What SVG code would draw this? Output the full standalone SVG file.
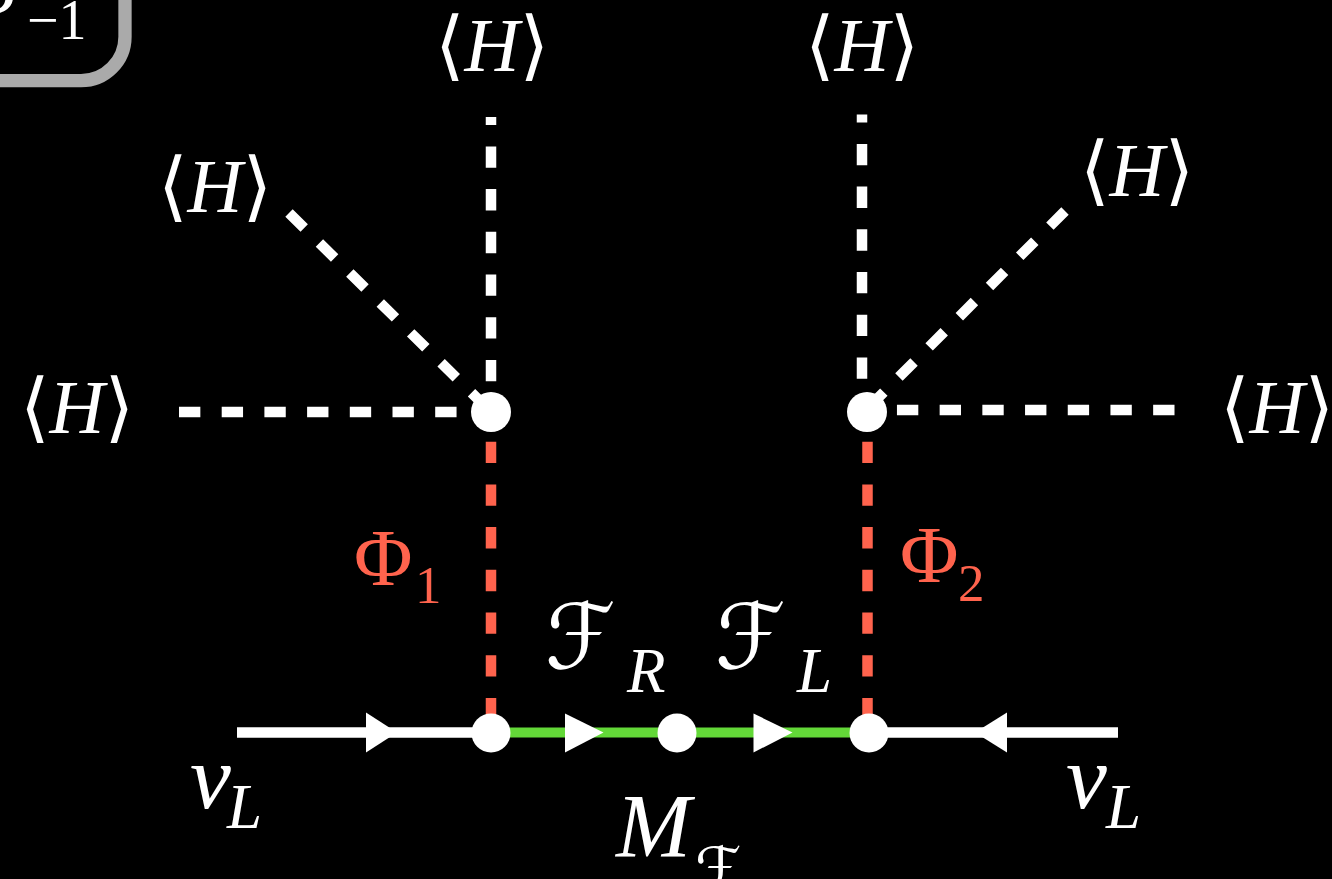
<svg xmlns="http://www.w3.org/2000/svg" width="1332" height="879" viewBox="0 0 1332 879">
<style>
.t{font-family:"Liberation Serif","DejaVu Serif",serif;fill:#fff}
.i{font-style:italic}
.r{fill:#ff634d}
.sc{font-family:"DejaVu Serif","DejaVu Sans",serif;fill:#fff;font-style:italic}
.h{stroke:#fff;stroke-width:10.5;stroke-dasharray:21.35 21.35;fill:none}
.p{stroke:#ff634d;stroke-width:10.5;stroke-dasharray:21.35 21.35;fill:none}
.v{fill:#fff}
</style>
<rect width="1332" height="879" fill="#000"/>
<g id="box">
<rect x="-200" y="-100" width="325" height="180.7" rx="44" fill="none" stroke="#aaaaaa" stroke-width="13.3"/>
<text class="t i" x="-28" y="13" font-size="90">S</text>
<text class="t" x="27" y="39" font-size="56">−1</text>
</g>
<g id="connectors">
<line class="h" x1="491" y1="117" x2="491" y2="412" stroke-dashoffset="13.3"/>
<line class="h" x1="179" y1="412" x2="491" y2="412"/>
<line class="h" x1="289" y1="213" x2="491" y2="412"/>
<line class="h" x1="862" y1="114.5" x2="862" y2="412" stroke-dashoffset="13.3"/>
<line class="h" x1="1174.5" y1="410" x2="867" y2="410"/>
<line class="h" x1="1065" y1="211" x2="866" y2="410"/>
<line class="p" x1="491" y1="399" x2="491" y2="732"/>
<line class="p" x1="867.5" y1="399" x2="867.5" y2="732"/>
<line x1="237" y1="732.5" x2="491" y2="732.5" stroke="#fff" stroke-width="10.5"/>
<line x1="868" y1="732.5" x2="1118" y2="732.5" stroke="#fff" stroke-width="10.5"/>
<line x1="491" y1="732.5" x2="868" y2="732.5" stroke="#63d838" stroke-width="10"/>
<polygon points="366,712.5 397,732.5 366,752.5" fill="#fff"/>
<polygon points="565,713.5 603.5,732.5 565,752.5" fill="#fff"/>
<polygon points="753.5,713.5 792.5,732.5 753.5,752.5" fill="#fff"/>
<polygon points="1007,712.5 975,732.5 1007,752.5" fill="#fff"/>
</g>
<g id="v1"><circle class="v" cx="491" cy="412" r="20"/></g>
<g id="v2"><circle class="v" cx="867" cy="412" r="20"/></g>
<g id="v3"><circle class="v" cx="491" cy="733" r="19.5"/></g>
<g id="v4"><circle class="v" cx="677" cy="733" r="19.5"/></g>
<g id="v5"><circle class="v" cx="869" cy="733" r="19.5"/></g>
<g id="labels">
<text class="t" x="492" y="71" font-size="76" text-anchor="middle">⟨<tspan class="i">H</tspan>⟩</text>
<text class="t" x="862" y="71" font-size="76" text-anchor="middle">⟨<tspan class="i">H</tspan>⟩</text>
<text class="t" x="215" y="212" font-size="76" text-anchor="middle">⟨<tspan class="i">H</tspan>⟩</text>
<text class="t" x="1137" y="196" font-size="76" text-anchor="middle">⟨<tspan class="i">H</tspan>⟩</text>
<text class="t" x="77" y="433" font-size="76" text-anchor="middle">⟨<tspan class="i">H</tspan>⟩</text>
<text class="t" x="1277" y="433" font-size="76" text-anchor="middle">⟨<tspan class="i">H</tspan>⟩</text>
<text class="t r" x="354" y="585" font-size="80">Φ</text>
<text class="t r" x="415" y="603" font-size="53">1</text>
<text class="t r" x="900" y="582" font-size="80">Φ</text>
<text class="t r" x="958" y="601" font-size="53">2</text>
<text class="sc" x="545" y="668" font-size="90">ℱ</text>
<text class="t i" x="627" y="692" font-size="63">R</text>
<text class="sc" x="715" y="668" font-size="90">ℱ</text>
<text class="t i" x="797" y="692" font-size="63">L</text>
<text class="t i" x="616" y="857" font-size="90">M</text>
<text class="sc" x="694" y="890" font-size="60">ℱ</text>
<text class="t i" x="190" y="808" font-size="92">ν</text>
<text class="t i" x="227" y="828" font-size="63">L</text>
<text class="t i" x="1066" y="808" font-size="92">ν</text>
<text class="t i" x="1106" y="828" font-size="63">L</text>
</g>
</svg>
